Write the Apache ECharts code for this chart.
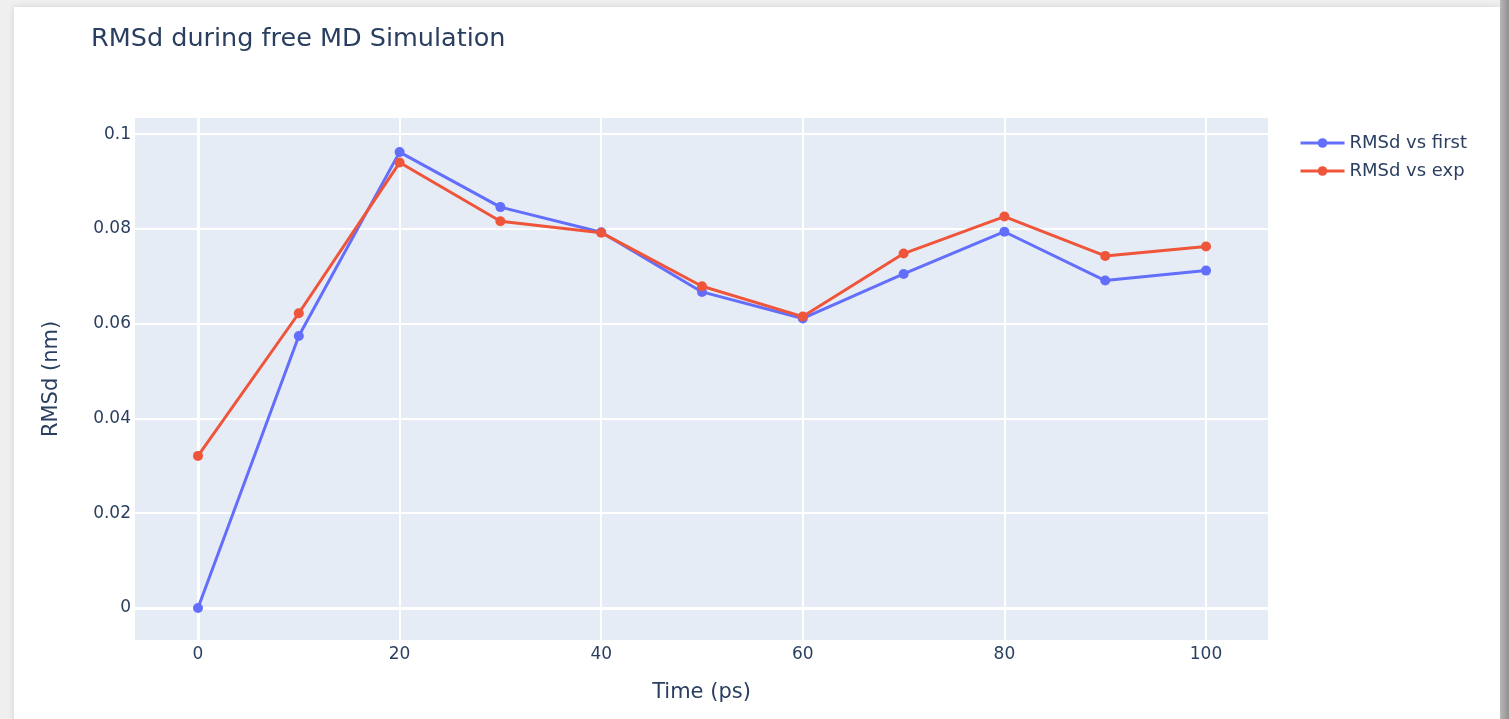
<!DOCTYPE html>
<html>
<head>
<meta charset="utf-8">
<script src="https://cdn.jsdelivr.net/npm/echarts@6/dist/echarts.min.js"></script>
<style>
  html, body { margin: 0; padding: 0; width: 1509px; height: 719px; overflow: hidden; background: #efefef; }
  #card { position: absolute; left: 14px; top: 7px; width: 1486px; height: 720px; background: #ffffff; box-shadow: 0 0 6px rgba(0,0,0,0.12); }
  #rshade { position: absolute; left: 1500px; top: 0; width: 9px; height: 719px; background: linear-gradient(to right, #b8b8b8, #8f8f8f); }
  #chart { position: absolute; left: 0; top: 0; width: 1509px; height: 719px; }
</style>
</head>
<body>
<div id="card"></div>
<div id="rshade"></div>
<div id="chart"></div>
<script>
const times = [0, 10, 20, 30, 40, 50, 60, 70, 80, 90, 100];
const rmsdVsFirst = [0, 0.0574, 0.0962, 0.0846, 0.0793, 0.0667, 0.0611, 0.0705, 0.0794, 0.0691, 0.0712];
const rmsdVsExp = [0.0321, 0.0622, 0.0940, 0.0816, 0.0792, 0.0679, 0.0615, 0.0748, 0.0826, 0.0743, 0.0763];
const xTicks = [0, 20, 40, 60, 80, 100];
const yTicks = [0, 0.02, 0.04, 0.06, 0.08, 0.1];
const seriesNames = ['RMSd vs first', 'RMSd vs exp'];

const textColor = '#2a3f5f';
const font = 'DejaVu Sans, Verdana, sans-serif';

const chart = echarts.init(document.getElementById('chart'), null, { renderer: 'canvas' });
chart.setOption({
  backgroundColor: 'transparent',
  animation: false,
  title: {
    text: 'RMSd during free MD Simulation',
    left: 86, top: 21,
    textStyle: { fontFamily: font, fontSize: 25.5, fontWeight: 'normal', color: textColor }
  },
  legend: {
    left: 1294, top: 129, orient: 'vertical',
    itemWidth: 44, itemHeight: 12, itemGap: 10,
    lineStyle: { width: 3 },
    textStyle: { fontFamily: font, fontSize: 18, color: textColor },
    data: seriesNames
  },
  grid: {
    left: 135, right: 241, top: 118, bottom: 79,
    show: true, backgroundColor: '#E5ECF6', borderWidth: 0
  },
  xAxis: {
    type: 'value', min: -6.25, max: 106.15,
    name: 'Time (ps)', nameLocation: 'middle', nameGap: 42,
    nameTextStyle: { fontFamily: font, fontSize: 21, color: textColor },
    axisLine: { show: false },
    axisTick: { show: false, customValues: xTicks },
    axisLabel: { customValues: xTicks, margin: 6, fontFamily: font, fontSize: 17, color: textColor },
    splitLine: { show: true, lineStyle: { color: '#ffffff', width: 2 } }
  },
  yAxis: {
    type: 'value', min: -0.00675, max: 0.1034,
    name: 'RMSd (nm)', nameLocation: 'middle', nameGap: 73, nameRotate: 90,
    nameTextStyle: { fontFamily: font, fontSize: 21, color: textColor },
    axisLine: { show: false },
    axisTick: { show: false, customValues: yTicks },
    axisLabel: { customValues: yTicks, margin: 4, fontFamily: font, fontSize: 17, color: textColor,
      formatter: v => String(+v.toFixed(4)) },
    splitLine: { show: true, lineStyle: { color: '#ffffff', width: 2 } }
  },
  series: [
    {
      type: 'line', z: 1, silent: true, data: [],
      markLine: {
        silent: true, symbol: 'none', label: { show: false }, z: 1,
        lineStyle: { color: '#ffffff', width: 3, type: 'solid' },
        data: [{ yAxis: 0 }, { xAxis: 0 }]
      }
    },
    {
      name: seriesNames[0], type: 'line', z: 10,
      data: times.map((t, i) => [t, rmsdVsFirst[i]]),
      symbol: 'circle', symbolSize: 10,
      itemStyle: { color: '#636efa' },
      lineStyle: { color: '#636efa', width: 3 }
    },
    {
      name: seriesNames[1], type: 'line', z: 11,
      data: times.map((t, i) => [t, rmsdVsExp[i]]),
      symbol: 'circle', symbolSize: 10,
      itemStyle: { color: '#EF553B' },
      lineStyle: { color: '#EF553B', width: 3 }
    }
  ]
});
</script>
</body>
</html>
